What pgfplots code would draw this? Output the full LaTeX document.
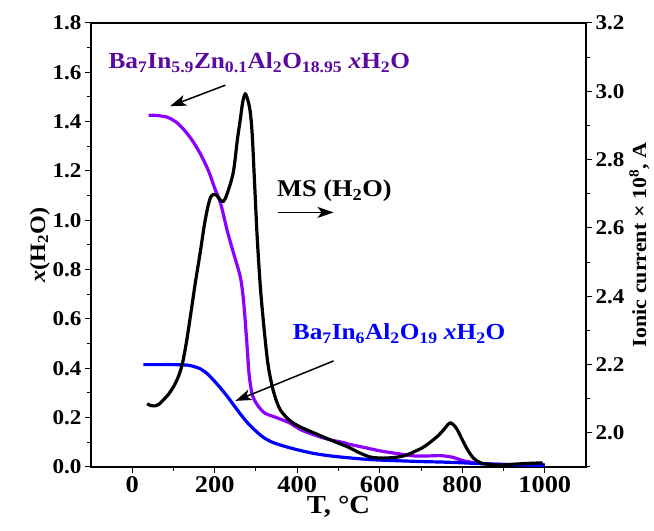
\documentclass[border=0pt]{standalone}
\usepackage{fontspec}
\setmainfont{Liberation Serif}[FakeStretch=1.1]
\usepackage{pgfplots}
\pgfplotsset{compat=1.18}
\usetikzlibrary{arrows.meta}

\definecolor{purpline}{RGB}{140,0,255}
\definecolor{purptext}{RGB}{90,10,160}
\definecolor{blueline}{RGB}{0,0,255}

% shared look of both axes
\pgfplotsset{
  common/.style={
    scale only axis, width=495pt, height=444pt,
    xmin=-100, xmax=1100,
    tick align=outside,
    major tick length=6pt, minor tick length=4pt,
    every tick/.style={black, line width=1pt},
    axis line style={line width=1.1pt},
    /pgf/number format/assume math mode=true,
    /pgf/number format/1000 sep={},
    tick label style={font=\bfseries\fontsize{21}{21}\selectfont},
    label style={font=\bfseries\fontsize{22}{22}\selectfont},
  },
}

\begin{document}
\begin{tikzpicture}
\begin{axis}[common, name=ax,
    ymin=0, ymax=1.8,
    xtick={0,200,...,1000}, minor x tick num=1,
    ytick={0,0.2,...,1.8}, minor y tick num=1,
    xtick pos=bottom, ytick pos=left,
    x tick label style={font=\bfseries\fontsize{24}{24}\selectfont},
    yticklabel style={/pgf/number format/.cd, fixed, fixed zerofill, precision=1},
    xlabel={T, °C}, ylabel={\textit{x}(H\textsubscript{2}O)},
    xlabel style={font=\bfseries\fontsize{26}{26}\selectfont, yshift=3pt},
    ylabel style={yshift=-4pt},
  ]
  % Ba7In5.9Zn0.1Al2O18.95 xH2O
  \addplot[purpline, line width=3.2pt, smooth] coordinates {
    (40,1.426) (60,1.425) (85,1.418) (105,1.40) (124,1.37) (145,1.325)
    (165,1.27) (185,1.20) (200,1.13) (214,1.07) (230,0.96) (245,0.87)
    (262,0.77) (270,0.67) (278,0.50) (283,0.38) (290,0.30) (300,0.26)
    (320,0.22) (350,0.20) (380,0.18) (410,0.15) (450,0.125) (480,0.11)
    (510,0.10) (524,0.093) (560,0.08) (602,0.065) (640,0.055) (683,0.045)
    (720,0.045) (748,0.046) (775,0.04) (804,0.025) (840,0.015) (870,0.012)
    (920,0.01) (1000,0.01)
  };
  % Ba7In6Al2O19 xH2O
  \addplot[blueline, line width=3.2pt, smooth] coordinates {
    (27,0.415) (60,0.415) (100,0.415) (134,0.413) (150,0.407) (165,0.398)
    (182,0.378) (197,0.352) (214,0.32) (230,0.287) (245,0.253) (262,0.215)
    (279,0.18) (300,0.145) (318,0.12) (340,0.10) (367,0.085) (400,0.07)
    (440,0.055) (480,0.045) (520,0.038) (560,0.032) (600,0.028) (650,0.025)
    (700,0.022) (750,0.02) (800,0.017) (850,0.013) (900,0.01) (950,0.008)
    (1000,0.006)
  };
  \node[purptext, font=\bfseries\fontsize{23}{23}\selectfont] at (axis cs:308,1.64)
    {Ba\textsubscript{7}In\textsubscript{5.9}Zn\textsubscript{0.1}Al\textsubscript{2}O\textsubscript{18.95} \textit{x}H\textsubscript{2}O};
  \node[blueline, font=\bfseries\fontsize{23}{23}\selectfont] at (axis cs:647,0.54)
    {Ba\textsubscript{7}In\textsubscript{6}Al\textsubscript{2}O\textsubscript{19} \textit{x}H\textsubscript{2}O};
  \node[black, font=\bfseries\fontsize{24}{24}\selectfont] at (axis cs:490,1.12)
    {MS (H\textsubscript{2}O)};
  \draw[-{Stealth[length=16pt,width=11pt,inset=4pt]}, line width=1.5pt] (axis cs:226,1.548) -- (axis cs:92,1.463);
  \draw[-{Stealth[length=16pt,width=11pt,inset=4pt]}, line width=1.5pt] (axis cs:354,1.032) -- (axis cs:488,1.032);
  \draw[-{Stealth[length=16pt,width=11pt,inset=4pt]}, line width=1.5pt] (axis cs:488,0.43) -- (axis cs:250,0.268);
\end{axis}

\begin{axis}[common,
    ymin=1.9, ymax=3.2,
    axis x line=none, axis y line*=right,
    ytick={2.0,2.2,...,3.2}, minor ytick={1.9,2.1,...,3.1},
    yticklabel style={/pgf/number format/.cd, fixed, fixed zerofill, precision=1},
    ylabel={Ionic current × 10\textsuperscript{8}, A},
    ylabel style={font=\bfseries\fontsize{20}{20}\selectfont, yshift=2pt},
  ]
  % MS (H2O) ionic current
  \addplot[black, line width=3.2pt, smooth] coordinates {
    (36,2.085) (45,2.08) (56,2.079) (66,2.085) (76,2.097) (88,2.113)
    (100,2.135) (112,2.165) (122,2.205) (132,2.27) (142,2.35) (153,2.44)
    (165,2.53) (175,2.61) (183,2.66) (190,2.69) (197,2.698) (205,2.695)
    (213,2.682) (221,2.678) (230,2.70) (245,2.763) (255,2.86) (262,2.918)
    (268,2.97) (274,2.992) (280,2.975) (286,2.94) (291,2.87) (297,2.72)
    (303,2.57) (311,2.42) (320,2.30) (328,2.21) (335,2.16) (345,2.11)
    (359,2.067) (383,2.035) (408,2.017) (440,2.0) (481,1.979) (522,1.959)
    (550,1.942) (578,1.929) (610,1.926) (643,1.929) (665,1.935) (682,1.944)
    (703,1.956) (723,1.973) (740,1.99) (755,2.009) (765,2.024) (772,2.029)
    (780,2.022) (788,2.009) (800,1.98) (813,1.95) (828,1.925) (845,1.912)
    (870,1.907) (900,1.906) (950,1.91) (995,1.912)
  };
\end{axis}
\pgfresetboundingbox
\path[use as bounding box] ([shift={(-91pt,-64pt)}]ax.south west) rectangle ([shift={(68pt,23pt)}]ax.north east);
\end{tikzpicture}
\end{document}
